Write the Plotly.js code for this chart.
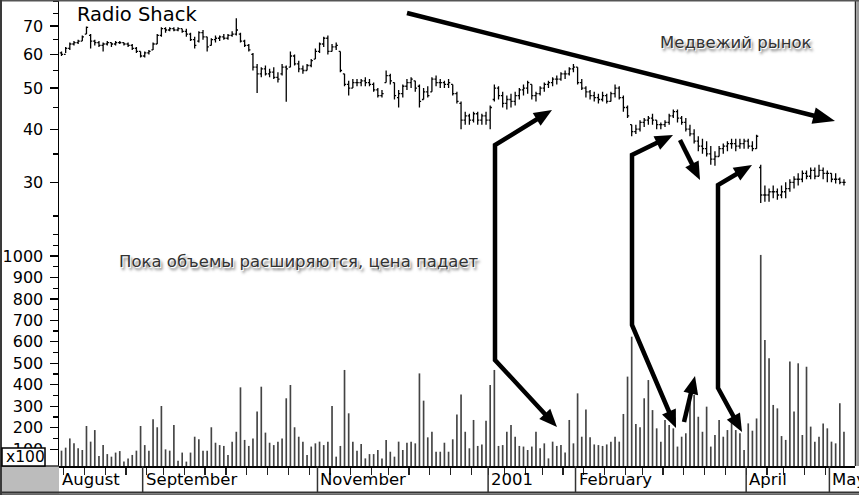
<!DOCTYPE html>
<html>
<head>
<meta charset="utf-8">
<script src="https://cdn.plot.ly/plotly-3.0.1.min.js"></script>
<style>
  html, body { margin: 0; padding: 0; background: #fff; }
  #chart { width: 859px; height: 495px; }
</style>
</head>
<body>
<div id="chart"></div>
<script>
// Radio Shack daily bars, 4 Aug 2000 - 7 May 2001
const priceOpen = [
  60.5,60,62,63.5,64,64.5,67,66.5,64.5,64, 63,63.5,64,63.5,64,64,63.5,63,62,61,
  59.5,60.5,61.5,63.5,66.5,69,68.5,69,68.5,69, 68,67,65,64.5,67.5,66,63,65,65.5,66,
  65.5,66.5,67,67,64.5,63,60,56,54,55.5, 54,54.5,53,54,56,56,59.5,57,55.5,55,
  56.5,58.5,61,63.5,65.5,61,62.5,61,54,51, 50,51.5,51.5,52,51.5,51,49.5,48,51.5,53.5,
  51.5,47.5,48.5,50.5,51.5,52,50.5,47,49,49, 52.5,51.5,51.5,51,51,48.5,46,42,43,42,
  43.5,42,43,42,47,50,48,46,47,46.5, 48,49.5,50,51,48,48.5,50,51,51.5,52.5,
  52.5,54,54,55.5,56,51.5,50,49,48,47.5, 47,48,46.5,48.5,50,47.5,45,41,39.5,40,
  41.5,42,42.5,42,41,41,41.5,43,44,42.5, 41.5,40,39,37.5,36.5,36,35,34,34.5,36,
  36.5,37,37,36.5,37,37.5,36.5,36,32.5,28, 28,28.5,28.5,28,28.5,29,30,30.5,30.5,31.5,
  31,32,31,32,31.5,31.5,30.5,30.5,30
];
const priceHigh = [
  61,62.5,64,64.5,65,66.5,69.8,67,65,64.5, 64,64.5,64,64.5,64.5,64,64,63.5,62.5,61,
  61,61.5,64,67,69.5,69.5,69.5,69.5,69.5,69, 69,67.5,66,68,68.5,66,65.5,66.5,66.5,67,
  67,68,73,67.5,65,63.5,60.5,57,56,56.5, 55.5,56,54.5,57,56.5,61,60,58,56.5,57,
  58.5,62,64,66,66.5,63.5,64,61,54,52, 52.5,52.5,52.5,53,52.5,51.5,50,49.5,55,54,
  51.5,49.5,51,52.5,53,52,51,50,50.5,53, 53.5,52.5,52,52.5,51,49,46.5,44,43.5,44,
  44,43.5,44,45.5,51,50.5,49,48,48.5,49, 50,51,52,51,49,50.5,51.5,52,53,53.5,
  54.5,55,56,57,56,52.5,50.5,49.5,49,48.5, 49,48.5,49,51,50.5,48,45.5,41,41,42,
  42.5,43,43.5,42,41.5,42,43.5,44.5,44.5,43, 42.5,41,40,38.5,38,37.5,36.5,35.5,36.5,37,
  37.5,38,38,38,38,38,37.5,38.8,33,29.5, 29,29.5,29,29.5,30,30.5,31,31.5,32,32,
  32.5,32.5,33,32.5,32,31.5,31.5,30.8,30.5
];
const priceLow = [
  59.5,60.5,61.5,63,63.5,64.5,67,62,63,62.5, 61,63,62.5,63,63.5,63,62.5,61.5,60.5,59,
  59,60,61.5,63.5,66,67.5,68,68,68,67.5, 66,64.5,62,64,65,61,63,64,64.5,65,
  65,66,66.5,64,62.5,61,55,48.7,53,53.5, 53,52.5,51.5,53.5,46.4,56,56.5,54.5,54,55,
  56,58.5,60.5,62.5,60,61,61.5,54.5,50.5,48, 50,50.5,50.5,50.5,50.5,49,47.5,47.5,51.5,51,
  47,45,47.5,49.5,50,49,45,47,47.5,49, 50.5,50,50,50,48,46,40,41,41,41.5,
  41,41,41,40,46.5,47,45,44.5,45,45.5, 47,48,48.5,47,46.5,48,49,50,50.5,51,
  52,52.5,53.5,54.5,51,49.5,47.5,47,46.5,46, 46.5,46,46.5,47.5,47,44,42.5,38.5,39,39.5,
  40.5,41,41,40,40,40.5,41,42.5,41.5,41, 39.5,38.5,37,35.5,35,34.5,33,32.8,34.5,35,
  35.5,36,35.5,36,36,36,35.5,36,26.8,27, 27,27.5,27.3,27.5,27.5,28.5,29,29.5,30,30.5,
  30.5,30.5,31,30.5,30,30,29.8,29.7,29.5
];
const priceClose = [
  60,62,63.5,64,64.5,66,69.5,64.5,64,63, 63.5,64,63.5,64,64,63.5,63,62,61,59.5,
  60.5,61,63.5,66.5,69,68.5,69,68.5,69,68, 67,65,63,67.5,66,62.5,65,65.5,66,65.5,
  66.5,67,68.5,64.5,63,61.5,56,54,55.5,54, 54.5,53,52.5,56,55.5,59.5,57,55.5,55,56.5,
  58,61,63.5,65.5,61,62.5,63,55,51,50, 51.5,51.5,52,51.5,51,49.5,48,48.5,53.5,52,
  48,48.5,50.5,51.5,52.5,50,46.5,49,48,52.5, 51.5,51.5,51,51.5,48.5,46.5,42,43,42,43.5,
  42,43,42,45,50,48,46,47,46.5,48, 49.5,50,51.5,48,48.5,50,51,51.5,52.5,52.5,
  54,54,55.5,56,51.5,50,49,48,47.5,47, 48,46.5,48.5,50,47.5,45,43,39.5,40,41.5,
  42,42.5,42,41,41,41.5,43,44,42.5,41.5, 40,39,37.5,36.5,36,35,34,34.5,36,36.5,
  37,37,36.5,37,37.5,36.5,36,38.5,28,28, 28.5,28.5,28,28.5,29,30,30.5,30.5,31.5,31,
  32,31,32,31.5,31.5,30.5,30.5,30,30
];
// daily volume, hundreds of shares
const volume = [
  93,107,150,127,104,96,208,135,189,68, 119,77,65,84,91,42,57,73,93,208,
  119,93,239,202,301,99,93,212,46,84, 42,84,158,146,93,93,202,130,119,115,
  73,135,181,388,143,115,150,275,391,177, 130,119,135,150,337,399,202,158,135,73,
  112,127,135,119,135,301,65,115,469,267, 135,93,124,57,77,77,96,57,143,88,
  65,135,96,130,135,127,453,326,155,181, 88,88,130,88,146,262,355,181,104,236,
  115,122,232,399,469,115,119,181,212,158, 115,112,96,112,181,104,127,57,135,115,
  119,84,236,127,360,158,285,155,122,119, 115,122,135,158,135,264,438,624,217,202,
  337,422,282,197,135,236,212,197,112,158, 174,345,352,251,181,298,112,166,236,158,
  189,236,189,174,96,220,186,243,1005,609, 523,306,290,161,143,508,275,500,166,484,
  205,135,158,220,197,135,127,314,181
];

const firstSession = '2000-08-04';
const marketHolidays = ['2000-09-04','2000-11-23','2000-12-25','2001-01-01','2001-01-15','2001-02-19','2001-04-13'];
const monthLabels = ['August','September','November','2001','February','April','May'];
const monthStarts = ['2000-08-04','2000-09-01','2000-11-01','2001-01-02','2001-02-01','2001-04-02','2001-05-01'];
const priceTicks = [30,40,50,60,70];
const priceMinorTicks = [25,35,45,55,65,75,80];
const volumeTicks = [100,200,300,400,500,600,700,800,900,1000];
const volumeMinorTicks = [150,250,350,450,550,650,750,850,950,1050,1100];

// session calendar
function tradingDays(start, n, skip) {
  const out = [];
  const d = new Date(start + 'T00:00:00Z');
  while (out.length < n) {
    const wd = d.getUTCDay();
    const s = d.toISOString().slice(0, 10);
    if (wd !== 0 && wd !== 6 && !skip.includes(s)) out.push(s);
    d.setUTCDate(d.getUTCDate() + 1);
  }
  return out;
}
const sessions = tradingDays(firstSession, priceClose.length, marketHolidays);
const idx = sessions.map((_, i) => i);
const weekday = s => new Date(s + 'T00:00:00Z').getUTCDay();

// a tick at the start of every trading week
const weekTicks = [];
for (let i = 1; i < sessions.length; i++) {
  if (weekday(sessions[i]) < weekday(sessions[i - 1])) weekTicks.push(i - 0.5);
}
const monthEdges = monthStarts.map(s => sessions.indexOf(s) - 0.5);

// pixel helpers for the frame and the drawn pointers
const L = 59, W = 796, H = 466;
const px = x => (x - L) / W;
const py = y => (H - y) / H;

const pointers = [
  { pts: [[407, 13], [835, 121]], heads: [false, true], size: [22, 17] },
  { pts: [[552, 110], [495, 145], [495, 360], [557, 427]], heads: [true, true] },
  { pts: [[673, 135], [632, 155], [632, 325], [676, 428]], heads: [true, true] },
  { pts: [[684, 422], [695, 376]], heads: [false, true] },
  { pts: [[680, 140], [700, 180]], heads: [false, true] },
  { pts: [[752, 165], [718, 185], [718, 388], [742, 432]], heads: [true, true] }
];

const shapes = [];
function headAt(tip, from, len, wid) {
  const dx = tip[0] - from[0], dy = tip[1] - from[1];
  const m = Math.hypot(dx, dy), ux = dx / m, uy = dy / m;
  const bx = tip[0] - ux * len, by = tip[1] - uy * len;
  const nx = -uy * wid / 2, ny = ux * wid / 2;
  shapes.push({
    type: 'path', xref: 'paper', yref: 'paper', layer: 'above',
    path: `M${px(tip[0])},${py(tip[1])} L${px(bx + nx)},${py(by + ny)} L${px(bx - nx)},${py(by - ny)} Z`,
    fillcolor: '#000', line: { width: 0 }
  });
  return [tip[0] - ux * len * 0.8, tip[1] - uy * len * 0.8];
}
pointers.forEach(p => {
  const pts = p.pts.map(q => q.slice());
  const [len, wid] = p.size || [18, 15];
  const n = pts.length;
  if (p.heads[1]) pts[n - 1] = headAt(p.pts[n - 1], p.pts[n - 2], len, wid);
  if (p.heads[0]) pts[0] = headAt(p.pts[0], p.pts[1], len, wid);
  shapes.push({
    type: 'path', xref: 'paper', yref: 'paper', layer: 'above',
    path: pts.map((q, i) => (i ? 'L' : 'M') + px(q[0]) + ',' + py(q[1])).join(' '),
    line: { color: '#000', width: 4.5 }
  });
});

// month cells under the volume panel
monthEdges.forEach((e, i) => {
  if (i === 0) return;
  shapes.push({ type: 'line', xref: 'x', yref: 'paper', x0: e, x1: e, y0: py(466), y1: py(492),
    line: { color: '#333', width: 1.5 }, layer: 'above' });
});
// frame
shapes.push(
  { type: 'rect', xref: 'paper', yref: 'paper', x0: px(0), x1: px(59), y0: py(466), y1: py(495),
    fillcolor: '#bcbcbc', line: { width: 0 }, layer: 'above' },
  { type: 'line', xref: 'paper', yref: 'paper', x0: px(0), x1: px(859), y0: py(492.5), y1: py(492.5),
    line: { color: '#333', width: 2 }, layer: 'above' },
  { type: 'rect', xref: 'paper', yref: 'paper', x0: px(0), x1: px(859), y0: py(493.5), y1: py(495),
    fillcolor: '#666', line: { width: 0 }, layer: 'above' },
  { type: 'line', xref: 'paper', yref: 'paper', x0: px(855.5), x1: px(855.5), y0: py(0), y1: py(466),
    line: { color: '#222', width: 1.5 }, layer: 'above' },
  { type: 'rect', xref: 'paper', yref: 'paper', x0: px(856.3), x1: px(859), y0: py(0), y1: py(466),
    fillcolor: '#9a9a9a', line: { width: 0 }, layer: 'above' },
  { type: 'line', xref: 'paper', yref: 'paper', x0: px(0), x1: px(859), y0: py(0.7), y1: py(0.7),
    line: { color: '#555', width: 1.5 }, layer: 'above' },
  { type: 'line', xref: 'paper', yref: 'paper', x0: px(1), x1: px(1), y0: py(0), y1: py(495),
    line: { color: '#3a3a3a', width: 2 }, layer: 'above' },
  { type: 'line', xref: 'paper', yref: 'paper', x0: px(0), x1: px(59), y0: py(466), y1: py(466),
    line: { color: '#333', width: 1.5 }, layer: 'above' },
  { type: 'rect', xref: 'paper', yref: 'paper', x0: px(2), x1: px(45), y0: py(448), y1: py(466),
    fillcolor: '#fff', line: { color: '#000', width: 1.5 }, layer: 'above' }
);

const shadowFont = { family: 'DejaVu Sans', size: 16.5, color: '#333',
  shadow: '1px 1px 0px #fff, 2px 3px 3px rgba(0,0,0,0.6)' };

const annotations = [
  { text: 'Radio Shack', x: px(75), y: py(14), xref: 'paper', yref: 'paper', xanchor: 'left', yanchor: 'middle',
    showarrow: false, font: { family: 'DejaVu Sans', size: 19.5, color: '#000' } },
  { text: 'Медвежий рынок', x: px(658), y: py(43), xref: 'paper', yref: 'paper', xanchor: 'left', yanchor: 'middle',
    showarrow: false, font: shadowFont },
  { text: 'Пока объемы расширяются, цена падает', x: px(117), y: py(261), xref: 'paper', yref: 'paper',
    xanchor: 'left', yanchor: 'middle', showarrow: false, font: shadowFont },
  { text: 'x100', x: px(4), y: py(457), xref: 'paper', yref: 'paper', xanchor: 'left', yanchor: 'middle',
    showarrow: false, font: { family: 'DejaVu Sans', size: 15.5, color: '#000' } }
];
monthLabels.forEach((t, i) => {
  annotations.push({ text: t, x: monthEdges[i], xref: 'x', y: py(479), yref: 'paper',
    xanchor: 'left', yanchor: 'middle', xshift: 1, showarrow: false,
    font: { family: 'DejaVu Sans', size: 16.5, color: '#000' } });
});

const traces = [
  {
    type: 'ohlc', x: idx, open: priceOpen, high: priceHigh, low: priceLow, close: priceClose,
    xaxis: 'x', yaxis: 'y', tickwidth: 0.4, hoverinfo: 'skip',
    increasing: { line: { color: '#000', width: 1.3 } },
    decreasing: { line: { color: '#000', width: 1.3 } }
  },
  {
    type: 'bar', x: idx, y: volume, xaxis: 'x', yaxis: 'y2', width: 0.4,
    marker: { color: '#444', line: { width: 0 } }, hoverinfo: 'skip'
  }
];

const axisFont = { family: 'DejaVu Sans', size: 16, color: '#000' };
const layout = {
  width: 859, height: 495,
  margin: { l: 59, r: 4, t: 0, b: 29, pad: 0 },
  paper_bgcolor: '#fff', plot_bgcolor: '#fff',
  font: { family: 'DejaVu Sans', color: '#000' },
  showlegend: false,
  xaxis: {
    type: 'linear', range: [-0.6, 190.65], anchor: 'y2',
    showgrid: false, zeroline: false, showline: true, linecolor: '#000', linewidth: 1.5,
    tickmode: 'array', tickvals: weekTicks, ticks: 'outside', ticklen: 7, tickwidth: 1.2, tickcolor: '#222',
    showticklabels: false, rangeslider: { visible: false }, fixedrange: true
  },
  yaxis: {
    type: 'log', domain: [0.5172, 1], anchor: 'x', range: [Math.log10(23.8), Math.log10(80.6)],
    showgrid: false, zeroline: false, showline: true, linecolor: '#000', linewidth: 1.5,
    tickmode: 'array', tickvals: priceTicks, ticktext: priceTicks.map(String),
    ticks: 'outside', ticklen: 8, tickwidth: 1.3, tickcolor: '#000', tickfont: axisFont, ticklabelstandoff: 3,
    minor: { tickmode: 'array', tickvals: priceMinorTicks, ticks: 'outside', ticklen: 5, tickwidth: 1.3, tickcolor: '#000' },
    fixedrange: true
  },
  yaxis2: {
    type: 'linear', domain: [0, 0.5172], anchor: 'x', range: [21.5, 1144.5],
    showgrid: false, zeroline: false, showline: true, linecolor: '#000', linewidth: 1.5,
    tickmode: 'array', tickvals: volumeTicks, ticktext: volumeTicks.map(String),
    ticks: 'outside', ticklen: 8, tickwidth: 1.3, tickcolor: '#000', tickfont: axisFont, ticklabelstandoff: 3,
    minor: { tickmode: 'array', tickvals: volumeMinorTicks, ticks: 'outside', ticklen: 5, tickwidth: 1.3, tickcolor: '#000' },
    fixedrange: true
  },
  shapes: shapes,
  annotations: annotations
};

Plotly.newPlot('chart', traces, layout, { staticPlot: true, displayModeBar: false });
</script>
</body>
</html>
